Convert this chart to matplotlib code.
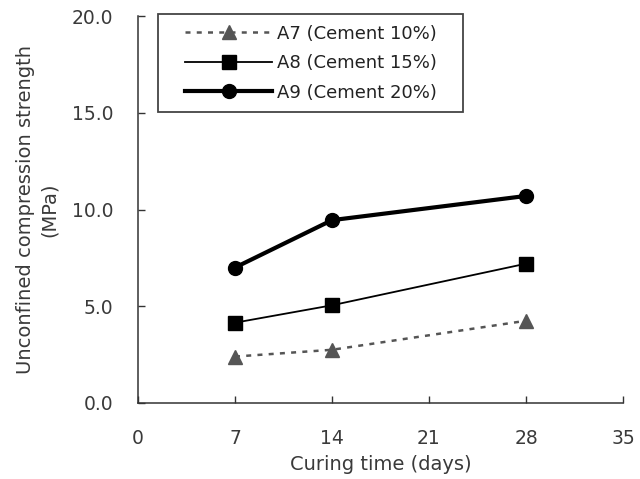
import matplotlib
matplotlib.use("Agg")
import matplotlib.pyplot as plt
from matplotlib.patches import Rectangle

days = [7, 14, 28]
a7 = [2.4, 2.75, 4.25]
a8 = [4.15, 5.05, 7.2]
a9 = [7.0, 9.45, 10.7]
labels = ["A7 (Cement 10%)", "A8 (Cement 15%)", "A9 (Cement 20%)"]
xticks = [0, 7, 14, 21, 28, 35]
yticks = [0, 5, 10, 15, 20]

plt.rcParams['font.family'] = ['DejaVu Sans']
W, H = 640, 479
fig = plt.figure(figsize=(6.4, 4.79), dpi=100)
ax = fig.add_axes([138 / W, 1 - 403 / H, (623 - 138) / W, (403 - 16) / H])

txt = '#3a3a3a'
ax.plot(days, a7, linestyle=(0, (2, 2.5)), color='#555555', lw=1.8, marker='^',
        markersize=10, markerfacecolor='#555555', markeredgecolor='#555555', label=labels[0])
ax.plot(days, a8, linestyle='-', color='black', lw=1.3, marker='s',
        markersize=10, label=labels[1])
ax.plot(days, a9, linestyle='-', color='black', lw=3.0, marker='o',
        markersize=10, label=labels[2])

ax.set_xlim(0, 35)
ax.set_ylim(0, 20)
ax.set_xticks(xticks)
ax.set_yticks(yticks)
ax.set_yticklabels([f"{v:.1f}" for v in yticks])
ax.spines['top'].set_visible(False)
ax.spines['right'].set_visible(False)
for s in ['left', 'bottom']:
    ax.spines[s].set_color('#333333')
    ax.spines[s].set_linewidth(1.1)
ax.tick_params(direction='in', length=5, width=1.0, colors='#333333', labelsize=13.5, labelcolor=txt)
ax.tick_params(axis='x', pad=19)
ax.tick_params(axis='y', pad=18)
ax.set_xlabel("Curing time (days)", fontsize=14, color=txt, labelpad=5)
ax.set_ylabel("Unconfined compression strength\n(MPa)", fontsize=14, color=txt,
              labelpad=9, linespacing=1.3)

leg = ax.legend(loc='upper left', bbox_to_anchor=((185 - 138) / (623 - 138) - 0.035, 1.022),
                fontsize=13, frameon=False, borderpad=0.45, labelspacing=0.64,
                handlelength=4.8, handletextpad=0.3, labelcolor='#222222')
fig.patches.append(Rectangle((158 / W, 1 - 112 / H), (463 - 158) / W, (112 - 14) / H,
                             transform=fig.transFigure, fill=False,
                             edgecolor='#444444', linewidth=1.3, zorder=5))

fig.savefig("out.png", dpi=100)
